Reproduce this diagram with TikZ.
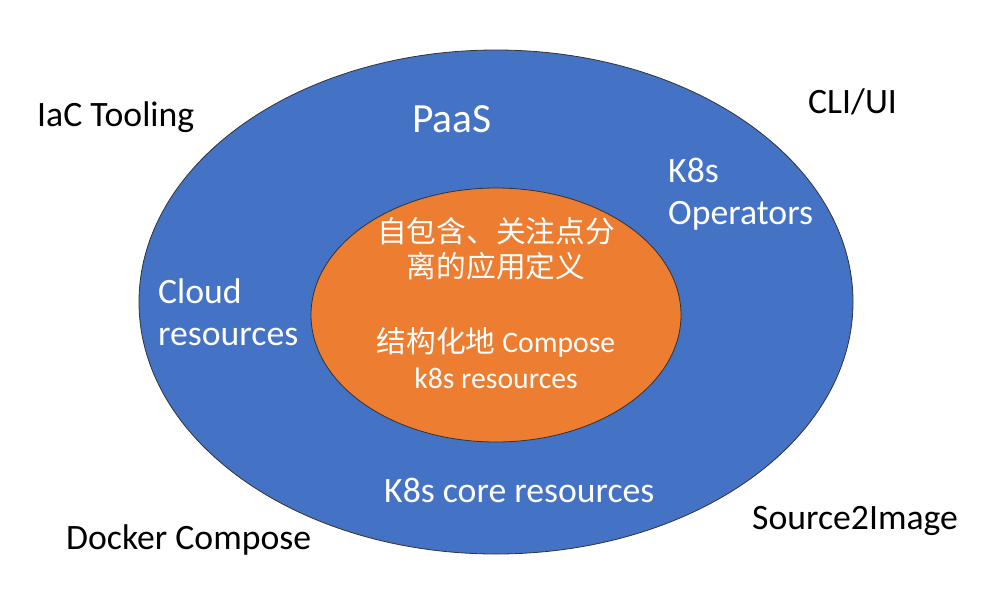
\documentclass[tikz,border=0pt]{standalone}
\usepackage{fontspec}
\setmainfont{Carlito}
\newfontfamily\cjk{Noto Sans CJK SC}
\usetikzlibrary{shapes.geometric}
\definecolor{pblue}{HTML}{4472C4}
\definecolor{porange}{HTML}{ED7D31}
\begin{document}
\begin{tikzpicture}[x=1pt,y=-1pt,
  ring/.style={ellipse, draw=black!80, line width=0.8pt, inner sep=0pt, outer sep=0pt},
  lbl/.style={inner sep=0pt, anchor=base west, font=\fontsize{35.7}{43}\selectfont},
  wlbl/.style={lbl, text=white},
  inlbl/.style={inner sep=0pt, anchor=base, text=white, font=\fontsize{29.7}{35}\selectfont}]
\useasboundingbox (0,0) rectangle (1003,611);
\node[ring, fill=pblue, minimum width=714pt, minimum height=504pt] (outer) at (496,302) {};
\node[ring, fill=porange, minimum width=370pt, minimum height=254pt] (inner) at (496,315) {};
% outside labels
\node[lbl] (iac) at (37,126) {IaC Tooling};
\node[lbl] (cli) at (808,113) {CLI/UI};
\node[lbl] (docker) at (66,549) {Docker Compose};
\node[lbl] (s2i) at (752,529) {Source2Image};
% blue ring labels
\node[wlbl, font=\fontsize{41.5}{49}\selectfont] (paas) at (412,132) {PaaS};
\node[wlbl] (k8s) at (668,182) {K8s};
\node[wlbl] (ops) at (668,224) {Operators};
\node[wlbl] (cloud) at (158,303) {Cloud};
\node[wlbl] (cloudres) at (158,345) {resources};
\node[wlbl] (core) at (384,502) {K8s core resources};
% inner labels
\node[inlbl] (in1) at (496,242) {\cjk 自包含、关注点分};
\node[inlbl] (in2) at (496,277) {\cjk 离的应用定义};
\node[inlbl] (in3) at (496,352) {{\cjk 结构化地} Compose};
\node[inlbl] (in4) at (496,388) {k8s resources};
\end{tikzpicture}
\end{document}
